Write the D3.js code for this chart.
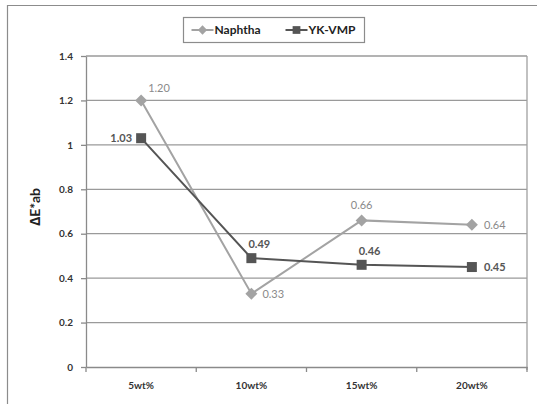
<!DOCTYPE html>
<html>
<head>
<meta charset="utf-8">
<script src="https://cdn.jsdelivr.net/npm/d3@7"></script>
<style>
  html, body { margin: 0; padding: 0; background: #fff; }
  svg { display: block; font-family: Lato, "Open Sans", sans-serif; }
</style>
</head>
<body>
<svg id="chart" width="537" height="404"></svg>
<script>
// Colour difference after accelerated weathering, by additive loading
const categories = ["5wt%", "10wt%", "15wt%", "20wt%"];
const naphthaValues = [1.20, 0.33, 0.66, 0.64];
const ykVmpValues = [1.03, 0.49, 0.46, 0.45];
const yTicks = [0, 0.2, 0.4, 0.6, 0.8, 1, 1.2, 1.4];
const yTickLabels = ["0", "0.2", "0.4", "0.6", "0.8", "1", "1.2", "1.4"];
const seriesNames = ["Naphtha", "YK-VMP"];
const yTitle = "\u2206E*ab";

// label placement per point: [dx, dy, anchor]
const naphthaLabelPos = [[7, -8, "start"], [11, 4, "start"], [0, -11, "middle"], [12, 4, "start"]];
const ykLabelPos = [[-9, 4, "end"], [8, -10, "middle"], [8, -10, "middle"], [12, 4, "start"]];

const svg = d3.select("#chart");
const plot = { left: 86, right: 527, top: 56, bottom: 367 };

// outer chart frame
svg.append("path")
  .attr("d", "M7.5,404 V5.5 H537")
  .attr("fill", "none").attr("stroke", "#8c8c8c").attr("stroke-width", 1.2);

const x = d3.scaleBand().domain(categories).range([plot.left, plot.right]);
const y = d3.scaleLinear().domain([0, 1.4]).range([plot.bottom, plot.top]);

// horizontal gridlines
svg.append("g").selectAll("line").data(yTicks.filter(d => d > 0)).join("line")
  .attr("x1", plot.left).attr("x2", plot.right)
  .attr("y1", d => y(d)).attr("y2", d => y(d))
  .attr("stroke", "#9a9a9a").attr("stroke-width", 1.3);

// plot area right edge
svg.append("line")
  .attr("x1", plot.right).attr("x2", plot.right)
  .attr("y1", plot.top).attr("y2", plot.bottom + 3)
  .attr("stroke", "#a0a0a0").attr("stroke-width", 1.3);

// y axis
const yAxis = d3.axisLeft(y).tickValues(yTicks)
  .tickFormat((d, i) => yTickLabels[i]).tickSize(5).tickSizeOuter(0).tickPadding(8);
const gy = svg.append("g").attr("transform", `translate(${plot.left},0)`).call(yAxis);
gy.select(".domain").attr("stroke", "#8a8a8a").attr("stroke-width", 1.3);
gy.selectAll(".tick line").attr("stroke", "#8a8a8a").attr("stroke-width", 1.3);
gy.selectAll(".tick text").attr("fill", "#333").attr("font-size", 10).attr("font-weight", "bold")
  .attr("font-family", "Lato, sans-serif");

// x axis
const xAxis = d3.axisBottom(x).tickSize(0).tickPadding(15);
const gx = svg.append("g").attr("transform", `translate(0,${plot.bottom})`).call(xAxis);
gx.select(".domain").attr("stroke", "#8a8a8a").attr("stroke-width", 1.3);
gx.selectAll(".tick text").attr("fill", "#333").attr("font-size", 10).attr("font-weight", "bold")
  .attr("font-family", "Lato, sans-serif");
// boundary tick marks between categories
const bounds = categories.map(c => x(c)).concat([plot.right]);
gx.selectAll(".bt").data(bounds).join("line")
  .attr("x1", d => d).attr("x2", d => d).attr("y1", 0).attr("y2", 5)
  .attr("stroke", "#8a8a8a").attr("stroke-width", 1.3);

// y axis title
svg.append("text")
  .attr("transform", "translate(40,207) rotate(-90)")
  .attr("text-anchor", "middle").attr("font-size", 14).attr("font-weight", "bold")
  .attr("fill", "#222").text(yTitle);

const cx = c => x(c) + x.bandwidth() / 2;
const line = d3.line().x(d => cx(d[0])).y(d => y(d[1]));

// rotated-square marker
const rhombus = {
  draw(ctx, size) {
    const r = Math.sqrt(size / 2);
    ctx.moveTo(0, -r); ctx.lineTo(r, 0); ctx.lineTo(0, r); ctx.lineTo(-r, 0); ctx.closePath();
  }
};

const series = [
  { name: seriesNames[0], values: naphthaValues, color: "#a3a3a3", labelColor: "#8a8a8a", shape: rhombus, size: 72, pos: naphthaLabelPos },
  { name: seriesNames[1], values: ykVmpValues, color: "#555555", labelColor: "#555555", shape: d3.symbolSquare, size: 100, pos: ykLabelPos }
];

series.forEach(s => {
  const pts = categories.map((c, i) => [c, s.values[i]]);
  svg.append("path").datum(pts).attr("d", line)
    .attr("fill", "none").attr("stroke", s.color).attr("stroke-width", 2);
  svg.append("g").selectAll("path").data(pts).join("path")
    .attr("transform", d => `translate(${cx(d[0])},${y(d[1])})`)
    .attr("d", d3.symbol().type(s.shape).size(s.size))
    .attr("fill", s.color);
  svg.append("g").selectAll("text").data(pts).join("text")
    .attr("x", (d, i) => cx(d[0]) + s.pos[i][0])
    .attr("y", (d, i) => y(d[1]) + s.pos[i][1])
    .attr("text-anchor", (d, i) => s.pos[i][2])
    .attr("font-size", 11).attr("fill", s.labelColor)
    .attr("font-weight", s.name === "YK-VMP" ? "bold" : "normal")
    .text(d => d[1].toFixed(2));
});

// legend
const lg = svg.append("g").attr("transform", "translate(183.5,17.5)");
lg.append("rect").attr("width", 181).attr("height", 25)
  .attr("fill", "#fff").attr("stroke", "#8c8c8c").attr("stroke-width", 1.2);
const legendItems = [
  { s: series[0], x: 8 },
  { s: series[1], x: 102 }
];
legendItems.forEach(it => {
  const g = lg.append("g").attr("transform", `translate(${it.x},12.5)`);
  g.append("line").attr("x1", 0).attr("x2", 22).attr("stroke", it.s.color).attr("stroke-width", 2);
  g.append("path").attr("transform", "translate(11,0)")
    .attr("d", d3.symbol().type(it.s.shape).size(it.s.size * 0.6)).attr("fill", it.s.color);
  g.append("text").attr("x", 23).attr("y", 4).attr("font-size", 12).attr("font-weight", "bold")
    .attr("fill", "#222").text(it.s.name);
});
</script>
</body>
</html>
